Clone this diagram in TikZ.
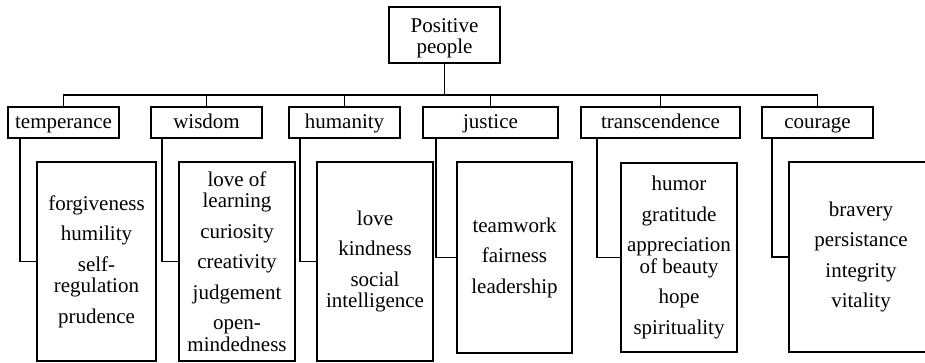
\documentclass[tikz,border=0pt]{standalone}
\usepackage{fontspec}
\setmainfont{Liberation Serif}
\begin{document}
\begin{tikzpicture}[x=1pt,y=-1pt,
  every node/.style={font=\fontsize{21}{21.5}\selectfont},
  box/.style={draw,line width=1.7pt,rectangle,inner sep=0pt,align=center},
  catbox/.style={box,minimum height=31pt,text height=16pt,text depth=3pt},
  detbox/.style={box},
  link/.style={line width=1.7pt}]
\useasboundingbox (0,0) rectangle (925,363);
\clip (0,0) rectangle (925,363);
\fill[white] (0,0) rectangle (925,363);

% root
\node[box,minimum width=111pt,minimum height=56pt] (root) at (444.5,35) {};
\node[align=center,inner sep=0pt] (roottext) at (444.5,38.5) {Positive\\people};

% virtue categories
\node[catbox,minimum width=111pt] (temp) at (63.5,122.5) {temperance};
\node[catbox,minimum width=111pt] (wis)  at (206.5,122.5) {wisdom};
\node[catbox,minimum width=111pt] (hum)  at (344.5,122.5) {humanity};
\node[catbox,minimum width=135pt] (jus)  at (490.5,122.5) {justice};
\node[catbox,minimum width=159pt] (tra)  at (660.5,122.5) {transcendence};
\node[catbox,minimum width=111pt] (cou)  at (817.5,122.5) {courage};

% character strengths
\node[detbox,minimum width=119pt,minimum height=199pt] (dtemp) at (96.5,261.5)
  {forgiveness\\[9pt]humility\\[9pt]self-\\regulation\\[9pt]prudence};
\node[detbox,minimum width=116pt,minimum height=199pt] (dwis) at (237,261.5)
  {love of\\learning\\[9pt]curiosity\\[9pt]creativity\\[9pt]judgement\\[9pt]open-\\mindedness};
\node[detbox,minimum width=116pt,minimum height=199pt] (dhum) at (375,261.5)
  {love\\[9pt]kindness\\[9pt]social\\intelligence};
\node[detbox,minimum width=115pt,minimum height=191pt] (djus) at (514.5,257.5)
  {teamwork\\[9pt]fairness\\[9pt]leadership};
\node[detbox,minimum width=116pt,minimum height=189pt] (dtra) at (679,257.5)
  {humor\\[9pt]gratitude\\[9pt]appreciation\\of beauty\\[9pt]hope\\[9pt]spirituality};
\node[detbox,minimum width=144pt,minimum height=190pt] (dcou) at (861,257)
  {bravery\\[9pt]persistance\\[9pt]integrity\\[9pt]vitality};

% tree connectors
\coordinate (bus) at (444.5,95);
\draw[link] (root.south) -- (bus);
\foreach \c in {temp,wis,hum,jus,tra,cou}
  \draw[link] (bus) -| (\c.north);

% side connectors
\draw[link] ([xshift=13pt]temp.south west) |- (dtemp.west);
\draw[link] ([xshift=12pt]wis.south west) |- (dwis.west);
\draw[link] ([xshift=12pt]hum.south west) |- (dhum.west);
\draw[link] ([xshift=14pt]jus.south west) |- (djus.west);
\draw[link] ([xshift=17pt]tra.south west) |- (dtra.west);
\draw[link] ([xshift=11pt]cou.south west) |- (dcou.west);
\end{tikzpicture}
\end{document}
